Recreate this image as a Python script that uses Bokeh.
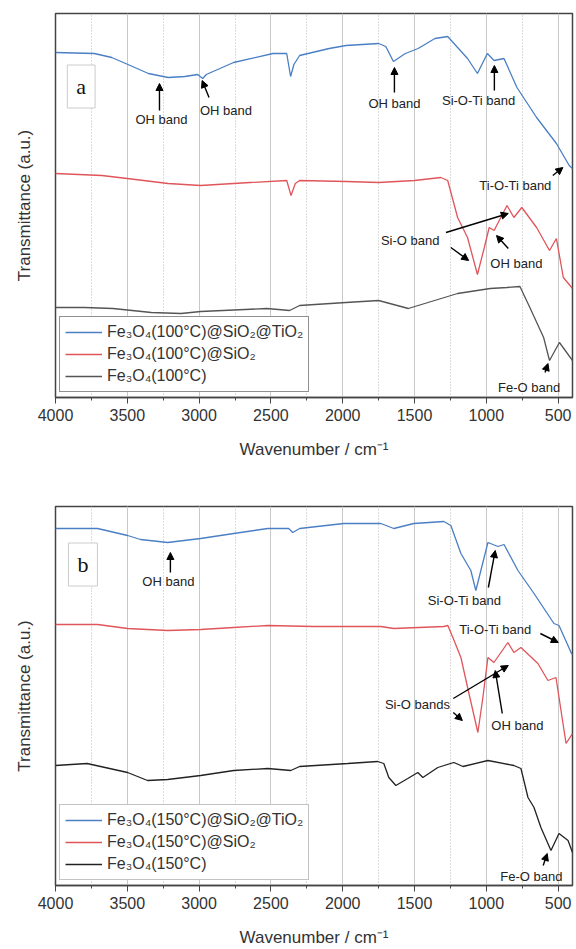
from bokeh.plotting import figure
from bokeh.models import (Range1d, FixedTicker, Legend, LegendItem, Label, Arrow,
                          NormalHead, SingleIntervalTicker)
from bokeh.layouts import column
from bokeh.embed import file_html
from bokeh.resources import INLINE

# ---------------- Panel a data (wavenumber cm-1, transmittance a.u.) ----------------
wn_a_blue = [4000, 3730, 3608, 3480, 3353, 3216, 3100, 3010, 2975, 2950, 2760, 2486, 2390,
             2363, 2340, 2300, 2094, 1977, 1750, 1700, 1647, 1564, 1475, 1358, 1269, 1200,
             1131, 1062, 993, 946, 877, 787, 650, 512, 423, 400]
t_a_blue = [345, 344, 340, 332, 324, 320, 321, 323, 319, 323, 335, 344, 344,
            321, 333, 342, 349, 352, 354, 351, 336, 344, 349, 359, 361, 350,
            339, 324, 344, 337, 339, 310, 280, 254, 232, 229]

wn_a_red = [4000, 3677, 3500, 3216, 2989, 2645, 2390, 2360, 2330, 2300, 1977, 1750, 1500,
            1317, 1269, 1200, 1131, 1062, 1014, 980, 946, 856, 808, 753, 650, 560, 512,
            464, 400]
t_a_red = [224, 222, 219, 214, 212, 215, 217, 202, 214, 217, 216, 215, 217,
           220, 217, 180, 160, 123, 150, 170, 167, 192, 180, 190, 170, 147, 159,
           120, 109]

wn_a_black = [4000, 3800, 3600, 3333, 3126, 2989, 2528, 2370, 2300, 1977, 1750, 1543, 1406,
              1200, 973, 856, 766, 697, 601, 560, 491, 400]
t_a_black = [90, 90, 89, 85, 84, 86, 89, 87, 92, 95, 97, 89, 95,
             104, 109, 110, 111, 90, 60, 37, 55, 37]

# ---------------- Panel b data ----------------
wn_b_blue = [4000, 3707, 3498, 3408, 3219, 2989, 2759, 2522, 2376, 2348, 2300, 1993, 1735,
             1644, 1505, 1296, 1247, 1177, 1108, 1073, 1038, 989, 919, 877, 780, 668, 529,
             494, 410, 400]
t_b_blue = [357, 357, 350, 346, 343, 347, 352, 357, 357, 353, 357, 362, 362,
            357, 362, 364, 360, 332, 315, 295, 315, 343, 339, 341, 315, 292, 262,
            260, 233, 231]

wn_b_red = [4000, 3707, 3498, 3219, 2989, 2759, 2522, 2202, 1735, 1644, 1296, 1268, 1233,
            1177, 1121, 1059, 1024, 989, 947, 850, 808, 759, 641, 571, 515, 445, 400]
t_b_red = [261, 261, 257, 255, 256, 258, 260, 259, 259, 257, 259, 260, 248,
           228, 192, 153, 188, 228, 223, 243, 233, 238, 222, 205, 208, 142, 152]

wn_b_black = [4000, 3780, 3498, 3359, 3219, 2989, 2759, 2522, 2362, 2300, 1965, 1756, 1714,
              1679, 1630, 1547, 1477, 1442, 1338, 1226, 1163, 989, 808, 759, 710, 668, 620,
              550, 494, 431, 400]
t_b_black = [120, 122, 113, 105, 106, 110, 115, 117, 115, 119, 122, 124, 122,
             108, 100, 107, 113, 108, 118, 123, 119, 125, 120, 117, 88, 78, 58,
             35, 52, 45, 33]

legend_a = ["Fe₃O₄(100°C)@SiO₂@TiO₂", "Fe₃O₄(100°C)@SiO₂", "Fe₃O₄(100°C)"]
legend_b = ["Fe₃O₄(150°C)@SiO₂@TiO₂", "Fe₃O₄(150°C)@SiO₂", "Fe₃O₄(150°C)"]

# annotations: (text, wavenumber, a.u.)
notes_a = [("OH band", 3262, 278), ("OH band", 2813, 287), ("OH band", 1640, 294),
           ("Si-O-Ti band", 1054, 297), ("Ti-O-Ti band", 798, 212), ("Si-O band", 1530, 157),
           ("OH band", 791, 134), ("Fe-O band", 702, 10)]
arrows_a = [(3276, 287, 3276, 314), (2931, 300, 2979, 317), (1640, 305, 1640, 330),
            (944, 307, 944, 332), (537, 222, 467, 230), (1281, 165, 847, 184),
            (1247, 150, 1123, 137), (847, 149, 929, 162), (591, 25, 571, 34)]
notes_b = [("OH band", 3214, 304), ("Si-O-Ti band", 1153, 285), ("Ti-O-Ti band", 938, 256),
           ("Si-O bands", 1480, 181), ("OH band", 784, 160), ("Fe-O band", 687, 9)]
arrows_b = [(3200, 313, 3200, 333), (986, 298, 938, 335), (624, 252, 499, 243),
            (1230, 187, 847, 220), (1230, 173, 1167, 165), (889, 172, 938, 215),
            (604, 20, 576, 32)]

BLUE = "#4a7fc4"
RED = "#e0555a"
FONT = "Liberation Sans"


def make_panel(letter, letter_pos, series, names, notes, arrows, height, ymax,
               borders, black_color, legend_border):
    p = figure(width=576, height=height, output_backend="svg", toolbar_location=None,
               x_range=Range1d(4000, 400), y_range=Range1d(0, ymax),
               min_border_left=borders[0], min_border_right=borders[1],
               min_border_top=borders[2], min_border_bottom=borders[3])
    p.outline_line_color = "#444444"
    p.outline_line_width = 1.5
    p.background_fill_color = "white"

    xa = p.xaxis[0]
    xa.ticker = SingleIntervalTicker(interval=500, num_minor_ticks=2)
    xa.axis_label = "Wavenumber / cm⁻¹"
    xa.axis_label_text_font = FONT
    xa.axis_label_text_font_style = "normal"
    xa.axis_label_text_font_size = "17px"
    xa.axis_label_text_color = "#333333"
    xa.axis_label_standoff = 16
    xa.major_label_text_font = FONT
    xa.major_label_text_font_size = "16px"
    xa.major_label_text_color = "#333333"
    xa.major_tick_out = 6
    xa.major_tick_in = 0
    xa.minor_tick_out = 3
    xa.minor_tick_in = 0
    xa.axis_line_color = "#444444"
    xa.axis_line_width = 1.5
    xa.major_tick_line_color = "#444444"
    xa.minor_tick_line_color = "#444444"

    ya = p.yaxis[0]
    ya.ticker = FixedTicker(ticks=[])
    ya.axis_label = "Transmittance (a.u.)"
    ya.axis_label_text_font = FONT
    ya.axis_label_text_font_style = "normal"
    ya.axis_label_text_font_size = "17px"
    ya.axis_label_text_color = "#333333"
    ya.axis_label_standoff = 22
    ya.axis_line_color = None
    ya.major_tick_line_color = None
    ya.minor_tick_line_color = None
    ya.major_label_text_font_size = "0px"

    p.ygrid.grid_line_color = None
    p.xgrid.grid_line_color = "#c8c8c8"
    p.xgrid.grid_line_width = 1
    p.xgrid.minor_grid_line_color = "#b8b8b8"
    p.xgrid.minor_grid_line_dash = "1 2"

    colors = [BLUE, RED, black_color]
    renderers = []
    for (xs, ys), c in zip(series, colors):
        r = p.line(xs, ys, line_color=c, line_width=1.3)
        renderers.append(r)

    items = [LegendItem(label=n, renderers=[r]) for n, r in zip(names, renderers)]
    leg = Legend(items=items, location=(4, 5), orientation="vertical")
    leg.label_text_font = FONT
    leg.label_text_font_size = "16px"
    leg.label_text_color = "#333333"
    leg.glyph_width = 37
    leg.glyph_height = 20
    leg.label_height = 20
    leg.spacing = 2
    leg.padding = 5
    leg.margin = 0
    leg.label_standoff = 5
    leg.border_line_color = legend_border
    leg.border_line_width = 1.5
    leg.background_fill_color = "white"
    leg.background_fill_alpha = 1
    p.add_layout(leg)

    for txt, x, y in notes:
        p.add_layout(Label(x=x, y=y, text=txt, text_font=FONT, text_font_size="13px",
                           text_color="#222222", text_align="center",
                           text_baseline="middle"))
    for x0, y0, x1, y1 in arrows:
        p.add_layout(Arrow(x_start=x0, y_start=y0, x_end=x1, y_end=y1,
                           line_color="black", line_width=1.4,
                           end=NormalHead(size=7, fill_color="black",
                                          line_color="black")))

    p.add_layout(Label(x=letter_pos[0], y=letter_pos[1], text=letter,
                       text_font="Liberation Serif", text_font_size="22px",
                       text_color="#111111", text_align="center",
                       text_baseline="middle", background_fill_color="white",
                       border_line_color="#cccccc", border_line_width=1, padding=9))
    return p


pa = make_panel("a", (3821, 311),
                [(wn_a_blue, t_a_blue), (wn_a_red, t_a_red), (wn_a_black, t_a_black)],
                legend_a, notes_a, arrows_a, 470, 384, (53, 1, 13, 73), "#555555", "#222222")
pb = make_panel("b", (3809, 321),
                [(wn_b_blue, t_b_blue), (wn_b_red, t_b_red), (wn_b_black, t_b_black)],
                legend_b, notes_b, arrows_b, 479, 379, (55, 4, 36, 64), "#222222", "#888888")

layout = column(pa, pb, spacing=0)
open("out.html", "w").write(file_html(layout, INLINE))
